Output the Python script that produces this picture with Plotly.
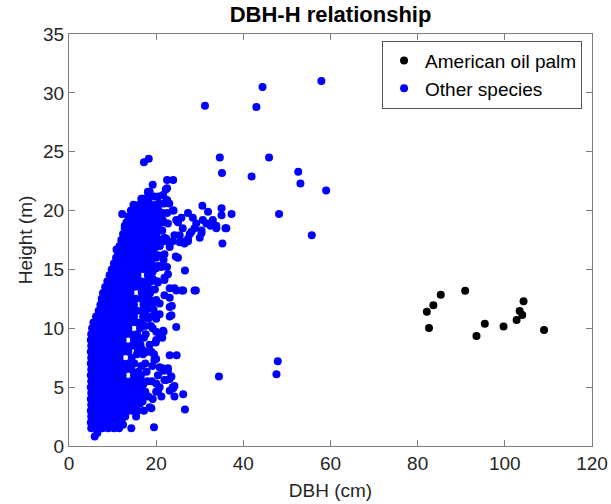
import plotly.graph_objects as go

# ---------------- data ----------------
palm_dbh = [82.1, 83.6, 85.3, 82.6, 90.9, 93.5, 95.4, 99.7, 102.7, 103.4, 104.0, 104.3, 109.0]
palm_h = [11.4, 11.95, 12.84, 10.03, 13.18, 9.34, 10.39, 10.16, 10.71, 11.47, 11.13, 12.29, 9.86]

# dense core of "other species": heights of rows and the DBH values seen in each row
core_row_h = [1.5, 2.0, 2.5, 3.0, 3.5, 4.0, 4.5, 5.0, 5.5, 6.0, 6.5, 7.0, 7.5, 8.0, 8.5,
              9.0, 9.5, 10.0, 10.5, 11.0, 11.5, 12.0, 12.5, 13.0, 13.5, 14.0, 14.5, 15.0,
              15.5, 16.0, 16.5, 17.0, 17.5, 18.0, 18.5, 19.0, 19.5, 20.0, 20.5, 21.0, 21.5]
core_row_dbh = [
    [5.1, 6.4, 7.7, 9.0, 10.3, 11.5],
    [5.0, 5.8, 7.0, 8.3, 9.6, 10.9, 12.1],
    [5.1, 6.4, 7.7, 9.0, 10.3, 11.6, 12.9],
    [5.0, 5.8, 7.1, 8.4, 9.7, 11.0, 12.3, 13.6, 14.6],
    [5.1, 6.4, 7.7, 9.0, 10.3, 11.6, 12.9, 14.2, 15.1],
    [5.0, 5.8, 7.1, 8.4, 9.7, 11.0, 12.3, 13.6, 14.9, 15.6],
    [5.1, 6.4, 7.7, 9.0, 10.3, 11.6, 12.9, 14.2, 15.5, 16.2],
    [5.0, 5.8, 7.1, 8.4, 9.7, 11.0, 12.3, 13.6, 14.9, 16.0],
    [5.1, 6.4, 7.7, 9.0, 10.3, 11.6, 12.9, 14.2, 15.4],
    [5.0, 5.8, 7.1, 8.4, 9.7, 11.0, 12.3, 14.9],
    [5.1, 6.4, 7.7, 9.0, 10.3, 11.6, 12.9, 14.3],
    [5.0, 5.8, 7.1, 8.4, 9.7, 11.0, 12.3, 13.6, 15.0],
    [5.1, 6.4, 7.7, 9.0, 10.3, 11.6, 14.4],
    [5.0, 5.8, 7.1, 8.4, 9.7, 11.0, 12.3, 13.6, 15.8],
    [5.1, 6.4, 7.7, 9.0, 10.3, 11.6, 12.9, 14.2, 15.3],
    [5.0, 5.8, 7.1, 8.4, 9.7, 11.0, 12.3, 14.9, 16.1],
    [5.1, 6.4, 7.7, 9.0, 10.3, 11.6, 12.9, 14.2, 15.6],
    [5.3, 6.0, 7.1, 8.4, 9.7, 11.0, 12.3, 13.6, 16.3],
    [5.6, 6.5, 7.8, 9.1, 10.4, 11.7, 13.0, 14.3, 15.6, 16.6],
    [6.2, 7.1, 8.4, 9.7, 11.0, 12.3, 13.6, 14.9, 17.0],
    [6.8, 7.8, 9.1, 10.4, 11.7, 13.0, 14.3, 15.6, 16.8],
    [7.2, 8.4, 9.7, 11.0, 12.3, 13.6, 14.9, 17.1],
    [7.5, 8.8, 10.1, 11.4, 12.7, 14.0, 15.3, 16.6, 17.5],
    [7.8, 8.9, 10.2, 11.5, 12.8, 14.1, 16.7, 17.6],
    [8.3, 9.6, 10.9, 12.2, 13.5, 14.8, 16.1, 17.4, 18.0],
    [8.8, 10.0, 11.3, 12.6, 13.9, 15.2, 16.5, 17.8],
    [9.3, 10.5, 11.8, 13.1, 14.4, 15.7, 18.1],
    [9.8, 11.0, 12.3, 13.6, 14.9, 16.2, 17.5, 18.5],
    [10.3, 11.5, 12.8, 14.1, 15.4, 16.7, 18.0],
    [10.8, 12.0, 13.3, 14.6, 15.9, 17.2, 18.5],
    [11.2, 12.5, 13.8, 15.1, 16.4, 17.7, 19.0],
    [11.6, 12.8, 14.1, 15.4, 16.7, 18.0, 19.1],
    [12.0, 13.3, 14.6, 15.9, 17.2, 18.5, 19.6],
    [12.4, 13.6, 14.9, 16.2, 17.5, 18.8, 20.0],
    [12.8, 14.1, 15.4, 16.7, 18.0, 19.3, 20.5],
    [13.2, 14.4, 15.7, 17.0, 18.3, 19.6, 20.9],
    [13.6, 14.9, 16.2, 17.5, 18.8, 20.1, 21.0],
    [14.2, 15.4, 16.7, 18.0, 19.3, 20.5],
    [14.8, 16.1, 17.4, 18.7, 19.9],
    [16.6, 18.2],
    [18.2],
]

# scattered "other species" trees outside the dense core
scatter_dbh = [
    31.2, 43.0, 44.4, 57.9, 34.6, 45.9, 35.1, 41.9, 52.6, 53.1, 59.0, 17.2, 18.3, 48.2, 55.7,
    47.9, 47.6, 34.4, 19.5, 26.6, 29.1, 10.9, 37.3, 35.2, 30.6, 26.2, 26.6, 24.7,
    12.2, 12.8, 18.1, 17.0, 22.5, 22.5, 23.9, 22.2, 21.6, 24.0, 24.6, 25.8, 27.3, 28.4,
    31.9, 32.5, 35.0, 35.0, 35.9, 30.4, 28.8, 27.3, 26.5, 25.4, 24.5, 30.7, 31.5, 33.0,
    33.8, 29.2, 28.1, 24.2, 22.3, 23.1, 20.8, 21.9, 20.0, 22.5, 21.5, 18.5, 36.1, 33.8,
    32.3, 30.4, 26.1, 25.0, 23.8, 20.4, 21.5, 22.7, 20.0, 21.9, 25.4, 27.7, 30.0,
    25.9, 28.8, 24.6, 23.1, 22.7, 21.9, 21.2, 20.4, 23.1, 23.5, 24.6, 20.8, 20.0, 21.6,
    20.8, 23.1, 25.0, 21.5, 22.3, 23.8, 25.8, 27.3, 22.5, 21.7, 21.9, 20.0, 19.2, 21.9,
    20.0, 24.2, 23.1, 23.6, 23.1, 21.7, 21.4, 19.9, 20.0, 21.4, 22.7, 20.4, 23.5, 18.9,
    20.0, 20.8, 19.2, 20.0,
    20.0, 18.1, 19.6, 20.8, 21.6, 22.7, 22.3, 24.2, 23.9, 20.8, 20.0, 26.2, 24.2, 21.2,
    19.2, 18.5, 15.4, 12.4, 14.3, 23.1, 23.8, 20.4, 21.9, 23.1, 18.9, 20.0, 5.9, 6.5,
    16.5, 17.5, 16.8, 17.6, 18.2, 17.9, 18.6, 19.3, 18.8, 19.6, 17.0, 16.9, 17.5,
    15.8, 17.2, 16.3, 17.0, 18.2, 16.8, 18.0, 19.0, 15.9, 17.8, 16.6, 19.1, 15.6, 17.0,
    19.5, 16.4, 18.5, 15.6, 17.2, 17.4, 18.8, 18.0, 19.0, 17.8, 19.4, 18.6, 18.9, 19.7,
    18.8, 20.2, 19.2, 19.6, 20.6, 19.4, 20.5, 19.9, 20.8, 20.4, 20.8, 21.4, 21.6, 21.5,
    22.5, 20.6, 21.8, 23.0, 19.5, 20.5, 19.2,
]
scatter_h = [
    28.9, 28.8, 30.5, 31.0, 24.5, 24.5, 23.2, 22.9, 23.3, 22.3, 21.7, 24.1, 24.4, 19.7, 17.9,
    7.2, 6.1, 5.9, 1.6, 3.1, 13.2, 16.7, 19.7, 17.2, 20.4, 13.2, 14.9, 7.7,
    19.7, 18.7, 21.6, 21.0, 20.9, 22.6, 22.6, 21.8, 21.3, 20.0, 19.2, 19.4, 19.8, 19.4,
    19.9, 18.7, 20.2, 19.6, 18.5, 18.1, 18.5, 17.6, 17.2, 17.3, 16.1, 19.2, 18.9, 19.2,
    18.7, 18.9, 18.2, 17.9, 17.6, 16.9, 17.0, 16.3, 16.0, 21.9, 21.3, 21.6, 18.5, 18.5,
    18.9, 18.3, 18.5, 19.0, 20.0, 20.2, 19.2, 18.9, 19.3, 17.7, 17.9, 18.0, 17.7,
    13.2, 13.2, 13.2, 12.6, 14.6, 14.1, 15.2, 13.9, 11.8, 11.1, 10.1, 12.1, 11.0, 9.8,
    9.5, 7.7, 16.0, 17.4, 17.4, 17.4, 17.4, 17.4, 15.2, 15.8, 14.3, 15.1, 14.2, 12.8,
    12.4, 13.4, 13.4, 11.9, 11.0, 9.7, 9.2, 8.8, 7.4, 6.6, 6.4, 6.0, 5.9, 8.0,
    10.8, 11.2, 10.0, 9.7,
    9.0, 8.0, 7.3, 6.7, 6.4, 6.6, 5.6, 5.1, 4.9, 5.0, 4.6, 4.4, 4.2, 4.2,
    4.0, 3.3, 2.5, 1.8, 1.5, 4.7, 5.0, 4.7, 5.6, 5.7, 3.2, 5.3, 0.8, 1.1,
    6.0, 7.0, 8.2, 9.5, 10.8, 12.0, 13.0, 12.2, 15.6, 16.8, 5.2, 3.8, 4.6,
    3.0, 3.0, 3.6, 4.2, 4.2, 5.5, 5.5, 5.5, 6.3, 6.3, 6.8, 6.8, 7.8, 7.8,
    7.8, 8.6, 8.6, 9.2, 9.2, 10.2, 10.2, 11.0, 11.0, 11.6, 11.6, 12.4, 13.3, 13.3,
    14.0, 14.0, 14.8, 15.3, 15.3, 16.2, 16.2, 17.0, 17.0, 17.6, 18.3, 18.3, 19.0, 19.8,
    19.8, 20.6, 20.6, 20.6, 21.2, 21.2, 22.2,
]

x_ticks = [0, 20, 40, 60, 80, 100, 120]
y_ticks = [0, 5, 10, 15, 20, 25, 30, 35]

# ---------------- assemble ----------------
other_dbh = []
other_h = []
for h, row in zip(core_row_h, core_row_dbh):
    for d in row:
        other_dbh.append(d)
        other_h.append(h)
other_dbh += scatter_dbh
other_h += scatter_h

FONT = "Arial, Liberation Sans, Helvetica, sans-serif"
AX = "#7f7f7f"

fig = go.Figure()
fig.add_trace(go.Scatter(
    x=palm_dbh, y=palm_h, mode="markers", name="American oil palm",
    marker=dict(color="black", size=8, line=dict(width=0)),
))
fig.add_trace(go.Scatter(
    x=other_dbh, y=other_h, mode="markers", name="Other species",
    marker=dict(color="#0000ff", size=8, line=dict(width=0)),
))

axis_common = dict(
    showline=True, linecolor=AX, linewidth=1, mirror="ticks",
    ticks="inside", ticklen=6, tickcolor=AX, tickwidth=1,
    showgrid=False, zeroline=False, automargin=False,
    tickfont=dict(family=FONT, size=19, color="#262626"),
)

fig.update_layout(
    width=611, height=504,
    margin=dict(l=69, r=19, t=34, b=58),
    paper_bgcolor="white", plot_bgcolor="white",
    title=dict(text="<b>DBH-H relationship</b>", x=0.541, xanchor="center",
               y=0.972, yanchor="middle",
               font=dict(family=FONT, size=22, color="black")),
    xaxis=dict(range=[0, 120], tickvals=x_ticks, ticktext=[str(v) for v in x_ticks],
               title=dict(text="DBH (cm)", font=dict(family=FONT, size=19, color="#262626"),
                          standoff=10),
               **axis_common),
    yaxis=dict(range=[0, 35], tickvals=y_ticks, ticktext=[str(v) for v in y_ticks],
               title=dict(text="Height (m)", font=dict(family=FONT, size=19, color="#262626"),
                          standoff=5),
               **axis_common),
    legend=dict(x=0.981, xanchor="right", y=0.984, yanchor="top",
                bgcolor="white", bordercolor="#555555", borderwidth=1,
                font=dict(family=FONT, size=19, color="black"),
                tracegroupgap=0, itemsizing="trace", itemwidth=32),
    showlegend=True,
)

fig.write_html("out.html")
